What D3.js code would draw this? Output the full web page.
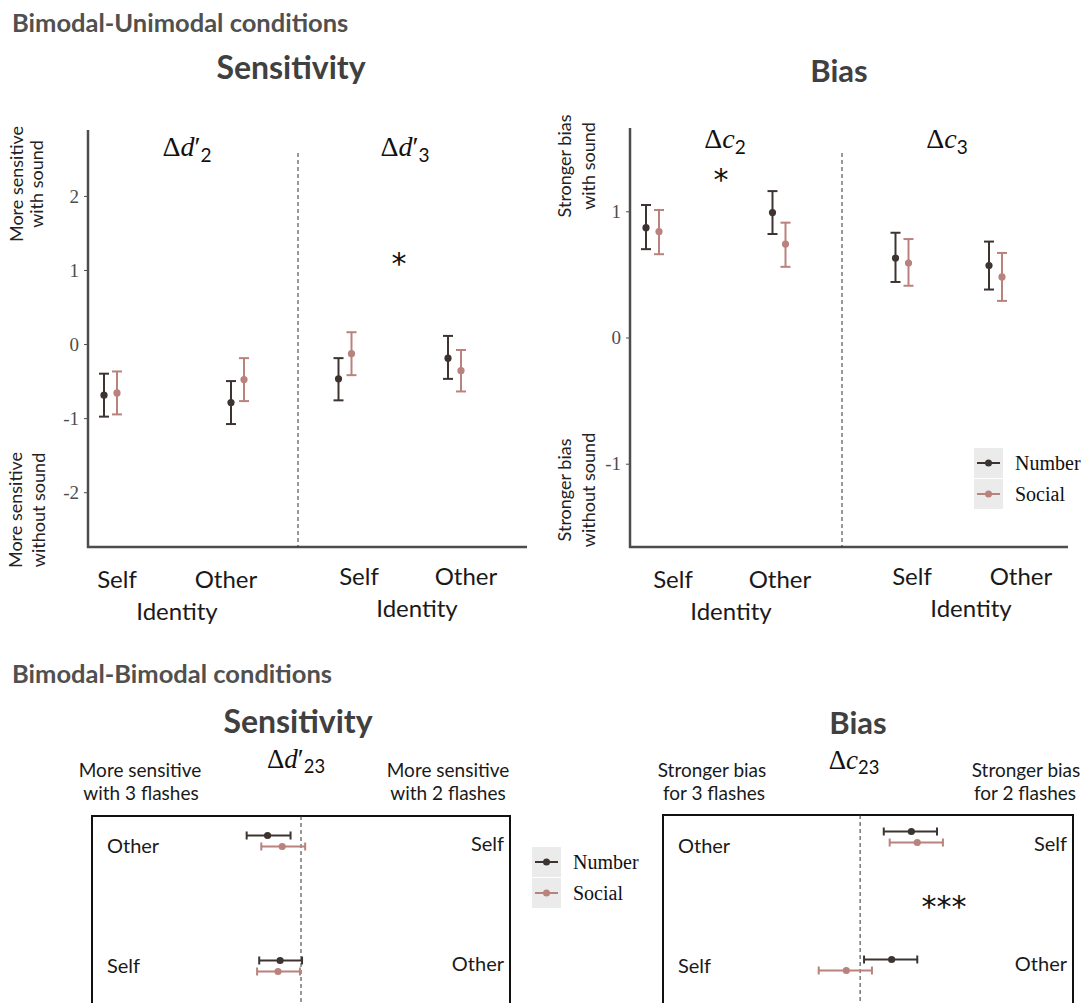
<!DOCTYPE html>
<html>
<head>
<meta charset="utf-8">
<script src="https://cdn.jsdelivr.net/npm/d3@7"></script>
<style>
  body { margin: 0; background: #fff; }
  svg { display: block; }
</style>
</head>
<body>
<div id="chart"></div>
<script>
// series and categories
var series = ['Number', 'Social'];
var identities = ['Self', 'Other'];
var seriesColors = ['#3d3431', '#b9827d'];

// Bimodal-Unimodal sensitivity, [mean, low, high] for Self, Other
var sensD2Number = [[-0.69, -0.98, -0.40], [-0.79, -1.08, -0.50]];
var sensD2Social = [[-0.66, -0.95, -0.37], [-0.48, -0.77, -0.19]];
var sensD3Number = [[-0.47, -0.76, -0.19], [-0.19, -0.47, 0.11]];
var sensD3Social = [[-0.13, -0.42, 0.16], [-0.36, -0.64, -0.08]];
var sensTicks = [-2, -1, 0, 1, 2];

// Bimodal-Unimodal bias, [mean, low, high] for Self, Other
var biasC2Number = [[0.87, 0.70, 1.05], [0.99, 0.82, 1.16]];
var biasC2Social = [[0.84, 0.66, 1.01], [0.74, 0.56, 0.91]];
var biasC3Number = [[0.63, 0.44, 0.83], [0.57, 0.38, 0.76]];
var biasC3Social = [[0.59, 0.41, 0.78], [0.48, 0.29, 0.67]];
var biasTicks = [-1, 0, 1];

// Bimodal-Bimodal, rows top to bottom, [mean, low, high]
var rowLeftLabels = ['Other', 'Self'];
var rowRightLabels = ['Self', 'Other'];
var sens23Number = [[-0.16, -0.26, -0.05], [-0.10, -0.20, 0.005]];
var sens23Social = [[-0.09, -0.19, 0.02], [-0.11, -0.21, -0.005]];
var bias23Number = [[0.26, 0.12, 0.39], [0.16, 0.02, 0.29]];
var bias23Social = [[0.29, 0.15, 0.42], [-0.07, -0.21, 0.06]];

var sansFont = 'Lato, "Open Sans", sans-serif';
var serifFont = '"Liberation Serif", "DejaVu Serif", serif';
var starFont = '"DejaVu Sans", sans-serif';

var svg = d3.select('#chart')
.append('svg')
.attr('width', 1081)
.attr('height', 1003);

//plain text helper
const addText = (x, y, str, size, opts) => {
    opts = opts || {};
    return svg.append('text')
    .attr('x', x).attr('y', y)
    .attr('text-anchor', opts.anchor || 'start')
    .attr('font-family', opts.font || sansFont)
    .attr('font-size', size)
    .attr('font-weight', opts.weight || 'normal')
    .attr('fill', opts.fill || '#1a1a1a')
    .text(str);
};

//delta label like Δd'2 or Δc3
const deltaLabel = (x, y, letter, prime, sub, size) => {
    var t = svg.append('text')
    .attr('x', x).attr('y', y)
    .attr('text-anchor', 'middle')
    .attr('font-family', serifFont)
    .attr('font-size', size)
    .attr('fill', '#111');
    t.append('tspan').text('Δ');
    t.append('tspan').attr('font-style', 'italic').text(letter);
    if (prime) t.append('tspan').text('′');
    t.append('tspan').attr('font-family', sansFont).attr('font-size', size * 0.68)
    .attr('dy', size * 0.2).text(sub);
};

//rotated two line label
const sideLabel = (lines, x, yc, gap) => {
    var t = svg.append('text')
    .attr('transform', 'translate(' + x + ',' + yc + ') rotate(-90)')
    .attr('text-anchor', 'middle')
    .attr('font-family', sansFont)
    .attr('font-size', 18)
    .attr('fill', '#222');
    lines.forEach((l, i) => t.append('tspan').attr('x', 0).attr('y', i * gap).text(l));
};

//legend with gray keys
const drawLegend = (x, y) => {
    var key = 30;
    series.forEach((s, i) => {
        var ky = y + i * (key + 1);
        svg.append('rect').attr('x', x).attr('y', ky).attr('width', key - 1).attr('height', key)
        .attr('fill', '#ebebeb');
        svg.append('line').attr('x1', x + 3).attr('x2', x + key - 4)
        .attr('y1', ky + key / 2).attr('y2', ky + key / 2)
        .attr('stroke', seriesColors[i]).attr('stroke-width', 2);
        svg.append('circle').attr('cx', x + key / 2 - 0.5).attr('cy', ky + key / 2).attr('r', 3.5)
        .attr('fill', seriesColors[i]);
        addText(x + key + 11, ky + key / 2 + 7, s, 20, {font: serifFont, fill: '#111'});
    });
};

//vertical error bar plot (Bimodal-Unimodal)
const drawVerticalPanel = (p) => {
    var y = d3.scaleLinear().domain(p.yDomain).range([547, p.top]);
    var dodge = d3.scalePoint().domain(series).range([-6.5, 6.5]);

    var yAxis = d3.axisLeft(y).tickValues(p.ticks).tickSize(4).tickPadding(5)
    .tickFormat(d => String(d));
    var ax = svg.append('g').attr('transform', 'translate(' + p.left + ',0)').call(yAxis);
    ax.select('.domain').remove();
    ax.selectAll('.tick line').attr('stroke', '#4d4d4d');
    ax.selectAll('.tick text').attr('font-family', serifFont).attr('font-size', 19).attr('fill', '#4d4d4d');

    svg.append('line').attr('x1', p.left).attr('x2', p.left).attr('y1', p.top).attr('y2', 548)
    .attr('stroke', '#4d4d4d').attr('stroke-width', 2.5);
    svg.append('line').attr('x1', p.left - 1).attr('x2', p.right).attr('y1', 547).attr('y2', 547)
    .attr('stroke', '#4d4d4d').attr('stroke-width', 2.5);
    svg.append('line').attr('x1', p.divider).attr('x2', p.divider).attr('y1', 153).attr('y2', 547)
    .attr('stroke', '#333').attr('stroke-width', 1).attr('stroke-dasharray', '4,3');

    p.facets.forEach(f => {
        var x = d3.scalePoint().domain(identities).range(f.range);
        series.forEach((s, i) => {
            f.values[i].forEach((v, j) => {
                var cx = x(identities[j]) + dodge(s);
                var g = svg.append('g').attr('stroke', seriesColors[i]).attr('stroke-width', 2);
                g.append('line').attr('x1', cx).attr('x2', cx).attr('y1', y(v[1])).attr('y2', y(v[2]));
                g.append('line').attr('x1', cx - 5).attr('x2', cx + 5).attr('y1', y(v[1])).attr('y2', y(v[1]));
                g.append('line').attr('x1', cx - 5).attr('x2', cx + 5).attr('y1', y(v[2])).attr('y2', y(v[2]));
                svg.append('circle').attr('cx', cx).attr('cy', y(v[0])).attr('r', 3.6).attr('fill', seriesColors[i]);
            });
        });
        var lx = d3.scalePoint().domain(identities).range(f.labelRange);
        identities.forEach(id => addText(lx(id), f.labelY, id, 24, {anchor: 'middle'}));
        addText(f.identityX, f.labelY + 32, 'Identity', 24, {anchor: 'middle'});
        deltaLabel(f.deltaX, f.deltaY, p.letter, p.prime, f.sub, 28);
    });
};

//horizontal error bar plot (Bimodal-Bimodal)
const drawHorizontalPanel = (p) => {
    var x = d3.scaleLinear().domain(p.xDomain).range([p.left, p.right]);
    var y = d3.scalePoint().domain([0, 1]).range(p.rowRange);
    var dodge = d3.scalePoint().domain(series).range([-5.5, 5.5]);

    svg.append('rect').attr('x', p.left).attr('y', p.top)
    .attr('width', p.right - p.left).attr('height', 1020 - p.top)
    .attr('fill', 'none').attr('stroke', '#111').attr('stroke-width', 2);
    svg.append('line').attr('x1', x(0)).attr('x2', x(0)).attr('y1', p.top).attr('y2', 1003)
    .attr('stroke', '#333').attr('stroke-width', 1).attr('stroke-dasharray', '4,3');

    series.forEach((s, i) => {
        p.values[i].forEach((v, j) => {
            var cy = y(j) + dodge(s);
            var g = svg.append('g').attr('stroke', seriesColors[i]).attr('stroke-width', 2);
            g.append('line').attr('x1', x(v[1])).attr('x2', x(v[2])).attr('y1', cy).attr('y2', cy);
            g.append('line').attr('x1', x(v[1])).attr('x2', x(v[1])).attr('y1', cy - 4).attr('y2', cy + 4);
            g.append('line').attr('x1', x(v[2])).attr('x2', x(v[2])).attr('y1', cy - 4).attr('y2', cy + 4);
            svg.append('circle').attr('cx', x(v[0])).attr('cy', cy).attr('r', 3.6).attr('fill', seriesColors[i]);
        });
    });
    rowLeftLabels.forEach((l, j) => addText(p.left + 15, p.labelY[j], l, 20));
    rowRightLabels.forEach((l, j) => addText(p.right - 6, p.labelY[j] - 2, l, 20, {anchor: 'end'}));
};

// ---- Bimodal-Unimodal ----
addText(12, 32, 'Bimodal-Unimodal conditions', 25.5, {weight: 'bold', fill: '#505050'});
addText(291, 79, 'Sensitivity', 32, {weight: 'bold', fill: '#404040', anchor: 'middle'});
addText(839, 82, 'Bias', 31, {weight: 'bold', fill: '#404040', anchor: 'middle'});

drawVerticalPanel({
    yDomain: [-2.74, 2.89], top: 130, left: 88, right: 527, divider: 298,
    ticks: sensTicks, letter: 'd', prime: true,
    facets: [
        {values: [sensD2Number, sensD2Social], range: [110.5, 237.5], labelRange: [117, 226], labelY: 588,
         identityX: 177, deltaX: 187, deltaY: 156, sub: '2'},
        {values: [sensD3Number, sensD3Social], range: [345, 454.5], labelRange: [359, 466], labelY: 585,
         identityX: 417, deltaX: 405, deltaY: 156, sub: '3'}
    ]
});
drawVerticalPanel({
    yDomain: [-1.66, 1.66], top: 128, left: 630, right: 1068, divider: 842,
    ticks: biasTicks, letter: 'c', prime: false,
    facets: [
        {values: [biasC2Number, biasC2Social], range: [652.5, 779], labelRange: [673, 780], labelY: 588,
         identityX: 731, deltaX: 725, deltaY: 148, sub: '2'},
        {values: [biasC3Number, biasC3Social], range: [902, 995.5], labelRange: [912, 1021], labelY: 585,
         identityX: 971, deltaX: 947, deltaY: 148, sub: '3'}
    ]
});

sideLabel(['More sensitive', 'with sound'], 23, 184, 20);
sideLabel(['More sensitive', 'without sound'], 22, 510, 23);
sideLabel(['Stronger bias', 'with sound'], 571, 166, 24);
sideLabel(['Stronger bias', 'without sound'], 571, 490, 24);

addText(399, 274, '*', 30, {anchor: 'middle', fill: '#111', font: starFont});
addText(721, 190, '*', 30, {anchor: 'middle', fill: '#111', font: starFont});
drawLegend(974, 448);

// ---- Bimodal-Bimodal ----
addText(12, 683, 'Bimodal-Bimodal conditions', 25.5, {weight: 'bold', fill: '#505050'});
addText(298, 733, 'Sensitivity', 32, {weight: 'bold', fill: '#404040', anchor: 'middle'});
addText(858, 734, 'Bias', 31, {weight: 'bold', fill: '#404040', anchor: 'middle'});
deltaLabel(296, 768, 'd', true, '23', 27);
deltaLabel(854, 769, 'c', false, '23', 27);

addText(140, 777, 'More sensitive', 19, {anchor: 'middle'});
addText(141, 800, 'with 3 flashes', 19, {anchor: 'middle'});
addText(448, 777, 'More sensitive', 19, {anchor: 'middle'});
addText(448, 800, 'with 2 flashes', 19, {anchor: 'middle'});
addText(712, 777, 'Stronger bias', 19, {anchor: 'middle'});
addText(714, 800, 'for 3 flashes', 19, {anchor: 'middle'});
addText(1026, 777, 'Stronger bias', 19, {anchor: 'middle'});
addText(1025, 800, 'for 2 flashes', 19, {anchor: 'middle'});

drawHorizontalPanel({
    xDomain: [-1, 1], left: 92, right: 510, top: 816, rowRange: [841, 966],
    labelY: [853, 973], values: [sens23Number, sens23Social]
});
drawHorizontalPanel({
    xDomain: [-1, 1.08], left: 663, right: 1073, top: 815, rowRange: [837, 965],
    labelY: [853, 973], values: [bias23Number, bias23Social]
});

addText(944, 917, '***', 30, {anchor: 'middle', fill: '#111', font: starFont});
drawLegend(532, 847);
</script>
</body>
</html>
